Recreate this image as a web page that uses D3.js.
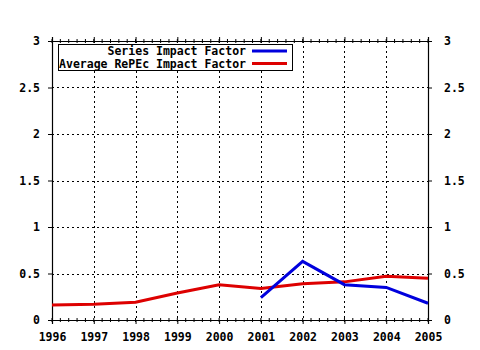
<!DOCTYPE html>
<html>
<head>
<meta charset="utf-8">
<script src="https://cdn.jsdelivr.net/npm/d3@7"></script>
<style>
  body { margin: 0; background: #fff; }
  text { font-family: "DejaVu Sans Mono", "Liberation Mono", monospace; font-weight: bold; font-size: 11.5px; fill: #000; }
</style>
</head>
<body>
<div id="chart"></div>
<script>
// years on the x axis
const years = [1996, 1997, 1998, 1999, 2000, 2001, 2002, 2003, 2004, 2005];
// Average RePEc Impact Factor, one per year
const repecValues = [0.16, 0.17, 0.19, 0.29, 0.38, 0.34, 0.39, 0.41, 0.47, 0.45];
// Series Impact Factor only starts in 2001
const seriesYears = [2001, 2002, 2003, 2004, 2005];
const seriesValues = [0.24, 0.63, 0.38, 0.35, 0.18];
const yTicks = [0, 0.5, 1, 1.5, 2, 2.5, 3];
const legendLabels = ["Series Impact Factor", "Average RePEc Impact Factor"];
const legendColors = ["#0000dd", "#dd0000"];

const W = 480, H = 350;
const margin = {top: 41, right: 52, bottom: 30, left: 52};
const width = W - margin.left - margin.right;
const height = H - margin.top - margin.bottom;

const svg = d3.select("#chart").append("svg")
    .attr("width", W)
    .attr("height", H)
  .append("g")
    .attr("transform", `translate(${margin.left},${margin.top})`);

const x = d3.scaleLinear().domain([1996, 2005]).range([0, width]);
const y = d3.scaleLinear().domain([0, 3]).range([height, 0]);

// dotted grid
svg.append("g")
  .selectAll("line")
  .data(years.slice(1, -1))
  .join("line")
    .attr("x1", d => Math.round(x(d)) + 0.5)
    .attr("x2", d => Math.round(x(d)) + 0.5)
    .attr("y1", 0)
    .attr("y2", height)
    .attr("stroke", "#000")
    .attr("stroke-dasharray", "2,3");

svg.append("g")
  .selectAll("line")
  .data(yTicks.slice(1, -1))
  .join("line")
    .attr("x1", 0)
    .attr("x2", width)
    .attr("y1", d => Math.round(y(d)) + 0.5)
    .attr("y2", d => Math.round(y(d)) + 0.5)
    .attr("stroke", "#000")
    .attr("stroke-dasharray", "2,3");

// minor ticks along the year axes
const minor = d3.range(1996, 2005.001, 0.2);

const xBottom = d3.axisBottom(x).tickValues(years).tickFormat(d3.format("d")).tickSize(4);
const xTop = d3.axisTop(x).tickValues(years).tickFormat("").tickSize(4);
const yLeft = d3.axisLeft(y).tickValues(yTicks).tickFormat(d3.format("")).tickSize(4);
const yRight = d3.axisRight(y).tickValues(yTicks).tickFormat(d3.format("")).tickSize(4);

function styleAxis(g) {
  g.select(".domain").attr("stroke", "#000").attr("stroke-width", 1.2);
  g.selectAll(".tick line").attr("stroke", "#000");
  g.selectAll(".tick text").attr("fill", "#000").style("font-size", "11.5px");
}

const gb = svg.append("g").attr("transform", `translate(0,${height})`).call(xBottom).call(styleAxis);
gb.selectAll(".tick text").attr("dy", "1.25em");
svg.append("g").call(xTop).call(styleAxis);
const gl = svg.append("g").call(yLeft).call(styleAxis);
gl.selectAll(".tick text").attr("x", -12);
const gr = svg.append("g").attr("transform", `translate(${width},0)`).call(yRight).call(styleAxis);
gr.selectAll(".tick text").attr("x", 16);

svg.append("g").selectAll("line")
  .data(minor)
  .join("line")
    .attr("x1", d => x(d)).attr("x2", d => x(d))
    .attr("y1", height - 2).attr("y2", height + 2)
    .attr("stroke", "#000");
svg.append("g").selectAll("line")
  .data(minor)
  .join("line")
    .attr("x1", d => x(d)).attr("x2", d => x(d))
    .attr("y1", -2).attr("y2", 2)
    .attr("stroke", "#000");

// lines
const line = d3.line()
    .x(d => x(d[0]))
    .y(d => y(d[1]));

svg.append("path")
    .datum(years.map((yr, i) => [yr, repecValues[i]]))
    .attr("fill", "none")
    .attr("stroke", legendColors[1])
    .attr("stroke-width", 3)
    .attr("d", line);

svg.append("path")
    .datum(seriesYears.map((yr, i) => [yr, seriesValues[i]]))
    .attr("fill", "none")
    .attr("stroke", legendColors[0])
    .attr("stroke-width", 3)
    .attr("d", line);

// legend box
const legend = svg.append("g").attr("transform", "translate(6,3)");
legend.append("rect")
    .attr("x", 0.5).attr("y", 0.5)
    .attr("width", 234).attr("height", 26)
    .attr("fill", "#fff")
    .attr("stroke", "#000");

legendLabels.forEach((lab, i) => {
  const ly = 7 + i * 12.6;
  legend.append("text")
      .attr("x", 188)
      .attr("y", ly)
      .attr("dy", "0.35em")
      .attr("text-anchor", "end")
      .text(lab);
  legend.append("line")
      .attr("x1", 194).attr("x2", 229)
      .attr("y1", ly).attr("y2", ly)
      .attr("stroke", legendColors[i])
      .attr("stroke-width", 3);
});
</script>
</body>
</html>
